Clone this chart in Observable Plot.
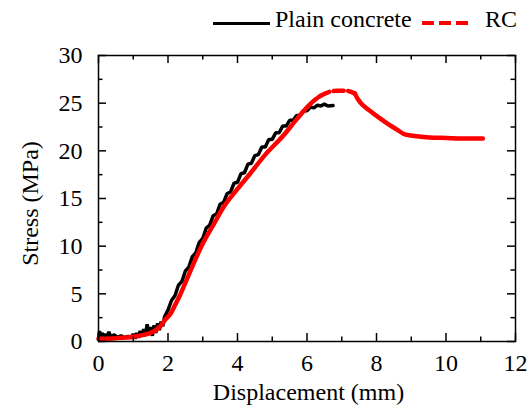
<!DOCTYPE html>
<html>
<head>
<meta charset="utf-8">
<script src="https://cdn.jsdelivr.net/npm/d3@7"></script>
<script src="https://cdn.jsdelivr.net/npm/@observablehq/plot@0.6"></script>
<style>
  html, body { margin: 0; padding: 0; background: #fff; }
  #wrap { position: relative; width: 529px; height: 410px; font-family: "Liberation Serif", "Times New Roman", serif; }
  .leg { position: absolute; font-size: 24px; line-height: 1; color: #000; white-space: nowrap; }
  .sw { position: absolute; }
</style>
</head>
<body>
<div id="wrap"></div>
<script>
// ---- Data ----
const seriesNames = ["Plain concrete", "RC"];

// Plain concrete (black, noisy)
const plainX = [0, 0.03, 0.06, 0.1, 0.15, 0.2, 0.25, 0.3, 0.35, 0.45, 0.55, 0.65, 0.75, 0.85, 0.95, 1.0, 1.05, 1.1, 1.15, 1.2, 1.25, 1.3, 1.35, 1.4, 1.45, 1.5, 1.55, 1.6, 1.65, 1.7, 1.75, 1.8, 1.85, 1.9,
  2.0, 2.1, 2.2, 2.3, 2.4, 2.5, 2.6, 2.7, 2.8, 2.9, 3.0, 3.1, 3.2, 3.3, 3.4, 3.5, 3.6, 3.7, 3.8, 3.9, 4.0, 4.1, 4.2, 4.3, 4.4, 4.5, 4.6, 4.7, 4.8, 4.9, 5.0, 5.1, 5.2, 5.3, 5.4, 5.5, 5.6, 5.7, 5.8, 5.9, 6.0, 6.1, 6.2, 6.3, 6.4, 6.5, 6.6, 6.75];
const plainY = [0.2, 1.1, 0.3, 0.9, 0.4, 0.8, 0.5, 1.0, 0.5, 0.7, 0.45, 0.6, 0.4, 0.55, 0.4, 0.8, 0.3, 0.9, 0.4, 1.1, 0.5, 1.3, 0.6, 1.8, 0.7, 1.5, 0.6, 1.7, 0.9, 1.9, 1.2, 2.1, 1.6, 2.6,
  3.3, 4.3, 4.8, 5.9, 6.3, 7.4, 7.8, 8.9, 9.3, 10.4, 10.8, 11.9, 12.2, 13.2, 13.4, 14.4, 14.6, 15.5, 15.7, 16.6, 16.7, 17.6, 17.7, 18.6, 18.7, 19.5, 19.6, 20.4, 20.4, 21.2, 21.2, 21.9, 21.9, 22.6, 22.6, 23.2, 23.2, 23.7, 23.7, 24.2, 24.2, 24.6, 24.5, 24.8, 24.7, 24.9, 24.7, 24.75];

// RC (red)
const rcX = [0, 0.5, 1.0, 1.3, 1.5, 1.65, 1.78, 1.9, 2.0, 2.07, 2.2, 2.35, 2.55, 2.8, 3.02, 3.3, 3.6, 4.0, 4.36, 4.8, 5.32, 5.7, 6.09, 6.25, 6.38,
  6.55, 6.7, 6.85, 7.0, 7.15, 7.25, 7.38,
  7.45, 7.55, 7.81, 8.1, 8.38, 8.6, 8.77, 9.0, 9.53, 10.0, 10.5, 11.06];
const rcY = [0.3, 0.35, 0.5, 0.7, 0.9, 1.2, 1.6, 2.2, 2.6, 2.9, 3.8, 4.9, 6.6, 8.7, 10.4, 12.2, 14.1, 16.0, 17.6, 19.6, 21.6, 23.3, 24.9, 25.4, 25.75,
  26.05, 26.25, 26.3, 26.3, 26.3, 26.2, 26.0,
  25.5, 25.0, 24.2, 23.4, 22.7, 22.2, 21.8, 21.6, 21.4, 21.35, 21.3, 21.3];
// the RC segment drawn dashed (sparse points near the peak)
const rcDashRange = [6.38, 7.38];

// axes
const xMajor = [0, 2, 4, 6, 8, 10, 12];
const xMinor = [1, 3, 5, 7, 9, 11];
const yMajor = [0, 5, 10, 15, 20, 25, 30];
const yMinor = [2.5, 7.5, 12.5, 17.5, 22.5, 27.5];
const xLabel = "Displacement (mm)";
const yLabel = "Stress (MPa)";

// ---- Build ----
const plain = plainX.map((x, i) => ({x, y: plainY[i]}));
const rc = rcX.map((x, i) => ({x, y: rcY[i]}));
const rcSolidA = rc.filter(d => d.x <= rcDashRange[0]);
const rcDash = rc.filter(d => d.x >= rcDashRange[0] && d.x <= rcDashRange[1]);
const rcSolidB = rc.filter(d => d.x >= rcDashRange[1]);

const W = 529, H = 410;
const mL = 98, mR = 14, mT = 55, mB = 69;
const innerW = W - mL - mR, innerH = H - mT - mB;
const font = "'Liberation Serif', 'Times New Roman', serif";

const chart = Plot.plot({
  width: W, height: H,
  marginLeft: mL, marginRight: mR, marginTop: mT, marginBottom: mB,
  style: {fontFamily: font, fontSize: "24px", color: "#000", background: "#fff", overflow: "visible"},
  x: {domain: [0, 12]},
  y: {domain: [0, 30]},
  marks: [
    Plot.line(plain, {x: "x", y: "y", stroke: "#000", strokeWidth: 3.5, strokeLinejoin: "miter"}),
    Plot.line(rcSolidA, {x: "x", y: "y", stroke: "#ff0000", strokeWidth: 4.5, curve: "monotone-x"}),
    Plot.line(rcDash, {x: "x", y: "y", stroke: "#ff0000", strokeWidth: 4.5, strokeDasharray: "10,4.5", curve: "monotone-x"}),
    Plot.line(rcSolidB, {x: "x", y: "y", stroke: "#ff0000", strokeWidth: 4.5, curve: "monotone-x"}),
    Plot.frame({stroke: "#000", strokeWidth: 1.5}),
    Plot.tickX(xMajor, {x: d => d, insetTop: innerH - 8, stroke: "#000", strokeWidth: 1.5}),
    Plot.tickX(xMajor, {x: d => d, insetBottom: innerH - 8, stroke: "#000", strokeWidth: 1.5}),
    Plot.tickX(xMinor, {x: d => d, insetTop: innerH - 4.5, stroke: "#000", strokeWidth: 1.5}),
    Plot.tickX(xMinor, {x: d => d, insetBottom: innerH - 4.5, stroke: "#000", strokeWidth: 1.5}),
    Plot.tickY(yMajor, {y: d => d, insetRight: innerW - 8, stroke: "#000", strokeWidth: 1.5}),
    Plot.tickY(yMajor, {y: d => d, insetLeft: innerW - 8, stroke: "#000", strokeWidth: 1.5}),
    Plot.tickY(yMinor, {y: d => d, insetRight: innerW - 4.5, stroke: "#000", strokeWidth: 1.5}),
    Plot.tickY(yMinor, {y: d => d, insetLeft: innerW - 4.5, stroke: "#000", strokeWidth: 1.5}),
    Plot.axisX({ticks: xMajor, tickSize: 0, tickPadding: 12, fontSize: 24, label: null, fontFamily: font}),
    Plot.axisY({ticks: yMajor, tickSize: 0, tickPadding: 16, fontSize: 24, label: null, fontFamily: font}),
    Plot.text([xLabel], {text: d => d, frameAnchor: "bottom", lineAnchor: "middle", textAnchor: "middle", dx: 1.5, dy: 51, fontSize: 24, fontFamily: font, fill: "#000"}),
    Plot.text([yLabel], {text: d => d, frameAnchor: "left", lineAnchor: "middle", textAnchor: "middle", rotate: -90, dx: -68, dy: 5, fontSize: 24, fontFamily: font, fill: "#000"})
  ]
});

const wrap = document.getElementById("wrap");
wrap.appendChild(chart);

// ---- Legend (overlaid above the frame) ----
function addSwatch(left, width, color, thick) {
  const s = document.createElement("div");
  s.className = "sw";
  s.style.left = left + "px";
  s.style.top = (23 - thick / 2) + "px";
  s.style.width = width + "px";
  s.style.height = "0px";
  s.style.borderTop = thick + "px solid " + color;
  wrap.appendChild(s);
}
function addText(left, txt) {
  const t = document.createElement("div");
  t.className = "leg";
  t.style.left = left + "px";
  t.style.top = "7px";
  t.textContent = txt;
  wrap.appendChild(t);
}
addSwatch(213, 57, "#000", 3);
addText(275, seriesNames[0]);
const svgNS = "http://www.w3.org/2000/svg";
const ls = document.createElementNS(svgNS, "svg");
ls.setAttribute("width", 50); ls.setAttribute("height", 10);
ls.style.position = "absolute"; ls.style.left = "421px"; ls.style.top = "18px";
const ln = document.createElementNS(svgNS, "line");
ln.setAttribute("x1", 1); ln.setAttribute("x2", 47); ln.setAttribute("y1", 5); ln.setAttribute("y2", 5);
ln.setAttribute("stroke", "#ff0000"); ln.setAttribute("stroke-width", 4);
ln.setAttribute("stroke-dasharray", "12,5");
ls.appendChild(ln);
wrap.appendChild(ls);
addText(485, seriesNames[1]);
</script>
</body>
</html>
